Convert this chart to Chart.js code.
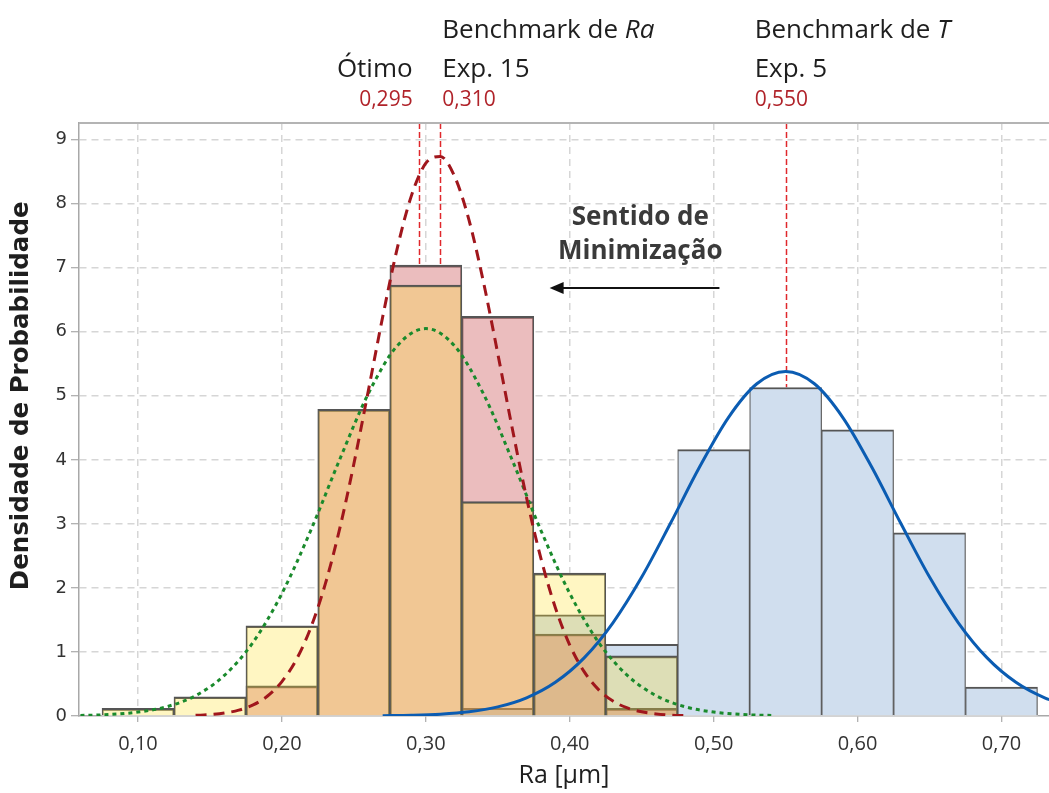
<!DOCTYPE html>
<html lang="pt-BR">
<head>
<meta charset="utf-8">
<title>Densidade de Probabilidade - Ra</title>
<script src="https://cdn.jsdelivr.net/npm/chart.js@4.4.1/dist/chart.umd.min.js"></script>
<style>
  html, body { margin: 0; padding: 0; background: #fff; }
  #wrap { width: 1049px; height: 793px; }
</style>
</head>
<body>
<div id="wrap"><canvas id="raChart" width="1049" height="793"></canvas></div>
<script>
// histogram bins (centres, bin width 0.05) and densities
const otimoBins = [0.10, 0.15, 0.20, 0.25, 0.30, 0.35, 0.40, 0.45];
const otimoDensity = [0.12, 0.30, 1.41, 4.79, 6.73, 3.35, 2.23, 0.94];
const exp15Bins = [0.20, 0.25, 0.30, 0.35, 0.40, 0.45];
const exp15Density = [0.47, 4.79, 7.04, 6.24, 1.28, 0.12];
const exp5Bins = [0.35, 0.40, 0.45, 0.50, 0.55, 0.60, 0.65, 0.70];
const exp5Density = [0.12, 1.58, 1.12, 4.16, 5.13, 4.47, 2.86, 0.45];

// fitted density curves
const otimoCurveX = [0.06, 0.08, 0.10, 0.12, 0.14, 0.16, 0.18, 0.20, 0.22, 0.24, 0.26, 0.28, 0.30,
                     0.32, 0.34, 0.36, 0.38, 0.40, 0.42, 0.44, 0.46, 0.48, 0.50, 0.52, 0.54];
const otimoCurveY = [0.008, 0.023, 0.061, 0.145, 0.318, 0.634, 1.152, 1.914, 2.896, 3.997, 5.032, 5.778, 6.05,
                     5.778, 5.032, 3.997, 2.896, 1.914, 1.152, 0.634, 0.318, 0.145, 0.061, 0.023, 0.008];
const exp15CurveX = [0.14, 0.15, 0.16, 0.17, 0.18, 0.19, 0.20, 0.21, 0.22, 0.23, 0.24, 0.25, 0.26, 0.27,
                     0.28, 0.29, 0.30, 0.31, 0.32, 0.33, 0.34, 0.35, 0.36, 0.37, 0.38, 0.39, 0.40, 0.41,
                     0.42, 0.43, 0.44, 0.45, 0.46, 0.47, 0.48];
const exp15CurveY = [0.010, 0.022, 0.046, 0.091, 0.173, 0.312, 0.537, 0.881, 1.377, 2.051, 2.911, 3.938, 5.074, 6.231,
                     7.290, 8.126, 8.632, 8.737, 8.426, 7.743, 6.780, 5.657, 4.497, 3.406, 2.459, 1.691, 1.108, 0.692,
                     0.412, 0.233, 0.126, 0.065, 0.032, 0.015, 0.007];
const exp5CurveX = [0.27, 0.29, 0.31, 0.33, 0.35, 0.37, 0.39, 0.41, 0.43, 0.45, 0.47, 0.49, 0.51,
                    0.53, 0.55, 0.57, 0.59, 0.61, 0.63, 0.65, 0.67, 0.69, 0.71, 0.73, 0.75];
const exp5CurveY = [0.004, 0.012, 0.029, 0.066, 0.142, 0.284, 0.526, 0.907, 1.455, 2.169, 3.009, 3.880, 4.653,
                    5.188, 5.38, 5.188, 4.653, 3.880, 3.009, 2.169, 1.455, 0.907, 0.526, 0.284, 0.142];

// reference values marked above the plot
const markerValues = [0.295, 0.310, 0.550];
const markerHeadings = [null, ["Benchmark de ", "Ra"], ["Benchmark de ", "T"]];
const markerNames = ["Ótimo", "Exp. 15", "Exp. 5"];

const xTicks = [0.10, 0.20, 0.30, 0.40, 0.50, 0.60, 0.70];
const yTicks = [0, 1, 2, 3, 4, 5, 6, 7, 8, 9];

const comma = (v, d) => v.toFixed(d).replace(".", ",");
const toPoints = (xs, ys) => xs.map((x, i) => ({ x, y: ys[i] }));

// opaque backing so gridlines do not show through the translucent bars
const allBins = [...new Set([...otimoBins, ...exp15Bins, ...exp5Bins])].sort((a, b) => a - b);
const heightAt = (bins, vals, b) => {
    const i = bins.indexOf(b);
    return i < 0 ? 0 : vals[i];
};
const backing = allBins.map((b) => ({
    x: b,
    y: Math.max(heightAt(otimoBins, otimoDensity, b), heightAt(exp15Bins, exp15Density, b), heightAt(exp5Bins, exp5Density, b))
}));

const barEdge = { top: 2, left: 1.2, right: 1.2, bottom: 0 };

const markerPlugin = {
    id: "markers",
    beforeDatasetsDraw(chart) {
        const { ctx, chartArea, scales } = chart;
        ctx.save();
        ctx.strokeStyle = "#e0282c";
        ctx.lineWidth = 1.5;
        ctx.setLineDash([6, 3]);
        markerValues.forEach((v) => {
            const px = Math.round(scales.x.getPixelForValue(v)) + 0.5;
            ctx.beginPath();
            ctx.moveTo(px, chartArea.top);
            ctx.lineTo(px, chartArea.bottom);
            ctx.stroke();
        });
        ctx.restore();
    },
    afterDraw(chart) {
        const { ctx, chartArea, scales } = chart;
        const xs = scales.x;
        const ys = scales.y;
        ctx.save();

        // frame line along the top of the plot
        ctx.strokeStyle = "#b4b4b4";
        ctx.lineWidth = 2;
        ctx.beginPath();
        ctx.moveTo(chartArea.left, chartArea.top);
        ctx.lineTo(chartArea.right, chartArea.top);
        ctx.stroke();

        // y axis title, sitting a little above the middle of the axis
        ctx.save();
        ctx.translate(22, ys.getPixelForValue(5.0));
        ctx.rotate(-Math.PI / 2);
        ctx.textAlign = "center";
        ctx.textBaseline = "middle";
        ctx.fillStyle = "#1e1e1e";
        ctx.font = "bold 24.5px 'DejaVu Sans'";
        ctx.fillText("Densidade de Probabilidade", 0, 0);
        ctx.restore();

        // headings over each reference line
        const shift = [-6, 2, -31];
        ctx.textBaseline = "alphabetic";
        markerValues.forEach((v, i) => {
            const px = xs.getPixelForValue(v) + shift[i];
            const align = i === 0 ? "right" : "left";
            ctx.textAlign = align;
            ctx.fillStyle = "#1e1e1e";
            ctx.font = "26px 'Open Sans'";
            ctx.fillText(markerNames[i], px, 77);
            if (markerHeadings[i]) {
                const [plain, ital] = markerHeadings[i];
                ctx.textAlign = "left";
                ctx.font = "26px 'Open Sans'";
                ctx.fillText(plain, px, 38);
                const w = ctx.measureText(plain).width;
                ctx.font = "italic 26px 'Open Sans'";
                ctx.fillText(ital, px + w, 38);
            }
            ctx.textAlign = align;
            ctx.fillStyle = "#b0232a";
            ctx.font = "21px 'Open Sans'";
            ctx.fillText(comma(v, 3), px, 106);
        });

        // direction note and arrow
        const noteX = xs.getPixelForValue(0.449);
        ctx.textAlign = "center";
        ctx.fillStyle = "#3a3a3a";
        ctx.font = "bold 26px 'Open Sans'";
        ctx.fillText("Sentido de", noteX, ys.getPixelForValue(7.66));
        ctx.fillText("Minimização", noteX, ys.getPixelForValue(7.13));

        const ay = Math.round(ys.getPixelForValue(6.68));
        const tail = xs.getPixelForValue(0.504);
        const tip = xs.getPixelForValue(0.386);
        ctx.strokeStyle = "#111";
        ctx.fillStyle = "#111";
        ctx.lineWidth = 2;
        ctx.beginPath();
        ctx.moveTo(tail, ay);
        ctx.lineTo(tip + 12, ay);
        ctx.stroke();
        ctx.beginPath();
        ctx.moveTo(tip, ay);
        ctx.lineTo(tip + 14, ay - 6);
        ctx.lineTo(tip + 14, ay + 6);
        ctx.closePath();
        ctx.fill();
        ctx.restore();
    }
};

new Chart(document.getElementById("raChart"), {
    type: "bar",
    data: {
        datasets: [
            {
                type: "bar",
                data: backing,
                backgroundColor: "#ffffff",
                borderWidth: 0,
                order: 7
            },
            {
                type: "bar",
                data: toPoints(exp5Bins, exp5Density),
                backgroundColor: "rgb(208, 222, 238)",
                borderColor: "#555",
                borderWidth: barEdge,
                order: 6
            },
            {
                type: "bar",
                data: toPoints(exp15Bins, exp15Density),
                backgroundColor: "rgba(206, 94, 96, 0.41)",
                borderColor: "#555",
                borderWidth: barEdge,
                order: 5
            },
            {
                type: "bar",
                data: toPoints(otimoBins, otimoDensity),
                backgroundColor: "rgba(255, 224, 46, 0.29)",
                borderColor: "#555",
                borderWidth: barEdge,
                order: 4
            },
            {
                type: "line",
                data: toPoints(otimoCurveX, otimoCurveY),
                borderColor: "#1a8a2c",
                borderWidth: 3,
                borderDash: [4, 4],
                pointRadius: 0,
                cubicInterpolationMode: "monotone",
                fill: false,
                order: 3
            },
            {
                type: "line",
                data: toPoints(exp15CurveX, exp15CurveY),
                borderColor: "#a0161c",
                borderWidth: 3,
                borderDash: [11, 7],
                pointRadius: 0,
                cubicInterpolationMode: "monotone",
                fill: false,
                order: 2
            },
            {
                type: "line",
                data: toPoints(exp5CurveX, exp5CurveY),
                borderColor: "#0b5cb2",
                borderWidth: 3,
                pointRadius: 0,
                cubicInterpolationMode: "monotone",
                fill: false,
                order: 1
            }
        ]
    },
    options: {
        responsive: false,
        animation: false,
        devicePixelRatio: 1,
        layout: { padding: { top: 123, right: 0, left: 0, bottom: 0 } },
        datasets: {
            bar: { grouped: false, barPercentage: 1, categoryPercentage: 1 }
        },
        plugins: {
            legend: { display: false },
            tooltip: { enabled: false }
        },
        scales: {
            x: {
                type: "linear",
                offset: false,
                min: 0.059,
                max: 0.733,
                afterBuildTicks: (s) => { s.ticks = xTicks.map((v) => ({ value: v })); },
                afterFit: (s) => { s.height = 77; },
                ticks: {
                    color: "#333",
                    font: { family: "'Open Sans'", size: 20 },
                    padding: 10,
                    maxRotation: 0,
                    callback: (v) => comma(v, 2)
                },
                grid: {
                    offset: false,
                    color: "#d6d6d6",
                    lineWidth: 1.5,
                    tickLength: 6,
                    tickColor: "#999",
                    tickWidth: 1
                },
                border: { display: true, color: "#a8a8a8", width: 1.5, dash: [7, 5] },
                title: {
                    display: true,
                    text: "Ra [µm]",
                    color: "#1e1e1e",
                    font: { family: "'Open Sans'", size: 25 },
                    padding: { top: 0, bottom: 2 }
                }
            },
            y: {
                min: 0,
                max: 9.26,
                afterBuildTicks: (s) => { s.ticks = yTicks.map((v) => ({ value: v })); },
                afterFit: (s) => { s.width = 79; },
                ticks: {
                    color: "#333",
                    font: { family: "'DejaVu Sans'", size: 18 },
                    padding: 4
                },
                grid: {
                    color: (c) => (c.tick && c.tick.value === 0 ? "rgba(0,0,0,0)" : "#d6d6d6"),
                    lineWidth: 1.5,
                    tickLength: 8,
                    tickColor: "#999",
                    tickWidth: 1
                },
                border: { display: true, color: "#a8a8a8", width: 1.5, dash: [7, 5] }
            }
        }
    },
    plugins: [markerPlugin]
});
</script>
</body>
</html>
